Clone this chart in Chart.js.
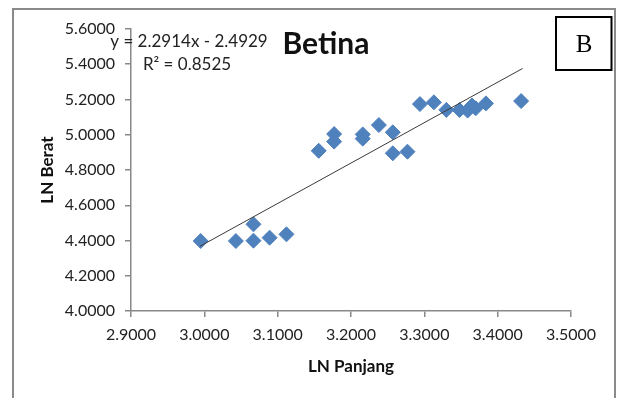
<!DOCTYPE html>
<html>
<head>
<meta charset="utf-8">
<script src="https://cdn.jsdelivr.net/npm/chart.js@4"></script>
<style>
  body { margin: 0; background: #fff; }
  #wrap { width: 617px; height: 398px; }
</style>
</head>
<body>
<div id="wrap"><canvas id="betina-chart" width="617" height="398"></canvas></div>
<script>
// LN Panjang / LN Berat
const lnPanjang = [2.995, 3.043, 3.067, 3.067, 3.089, 3.112, 3.156, 3.177, 3.177, 3.216, 3.216, 3.238,
	3.257, 3.257, 3.277, 3.294, 3.313, 3.330, 3.348, 3.359, 3.365, 3.370, 3.384, 3.432];
const lnBerat = [4.397, 4.397, 4.399, 4.492, 4.416, 4.435, 4.909, 5.004, 4.961, 5.002, 4.978, 5.055,
	5.014, 4.895, 4.904, 5.174, 5.184, 5.141, 5.140, 5.137, 5.166, 5.150, 5.178, 5.191];

// trendline ends
const trendX = [2.994, 3.434];
const trendY = [4.367, 5.376];

const xTicks = [2.9, 3.0, 3.1, 3.2, 3.3, 3.4, 3.5];
const yTicks = [4.0, 4.2, 4.4, 4.6, 4.8, 5.0, 5.2, 5.4, 5.6];

const titleText = "Betina";
const eqText = "y = 2.2914x - 2.4929";
const r2Text = "R\u00B2 = 0.8525";
const boxText = "B";

Chart.defaults.font.family = "Lato";
Chart.defaults.color = "#222";

let points = lnPanjang.map((x, i) => ({x: x, y: lnBerat[i]}));
let trend = trendX.map((x, i) => ({x: x, y: trendY[i]}));

// frame, title, equation and the "B" box
const extras = {
	id: "extras",
	afterDraw(chart) {
		const ctx = chart.ctx;
		ctx.save();
		ctx.strokeStyle = "#8a8a8a";
		ctx.lineWidth = 2;
		ctx.strokeRect(13, 9, 602, 420);

		ctx.strokeStyle = "#000";
		ctx.lineWidth = 2;
		ctx.strokeRect(556, 17, 55.5, 53);
		ctx.fillStyle = "#000";
		ctx.textAlign = "center";
		ctx.textBaseline = "middle";
		ctx.font = "25px 'Liberation Serif'";
		ctx.fillText(boxText, 584, 45);

		ctx.fillStyle = "#111";
		ctx.font = "bold 30px Lato";
		ctx.fillText(titleText, 326, 44);

		ctx.fillStyle = "#222";
		ctx.font = "17px Lato";
		ctx.fillText(eqText, 189, 42);
		ctx.fillText(r2Text, 187, 65);
		ctx.restore();
	}
};

new Chart(document.getElementById("betina-chart").getContext("2d"), {
	type: "scatter",
	data: {
		datasets: [{
			data: trend,
			showLine: true,
			pointRadius: 0,
			borderColor: "#3a3a3a",
			borderWidth: 1,
			order: 0
		},{
			data: points,
			pointStyle: "rectRot",
			pointRadius: 7.5,
			backgroundColor: "#4f81bd",
			borderColor: "#4f81bd",
			borderWidth: 1,
			order: 1
		}]
	},
	options: {
		responsive: false,
		animation: false,
		layout: { padding: { left: 0, right: 46, top: 29, bottom: 0 } },
		plugins: { legend: { display: false }, tooltip: { enabled: false } },
		scales: {
			x: {
				type: "linear",
				min: 2.9,
				max: 3.5,
				afterBuildTicks: s => { s.ticks = xTicks.map(v => ({value: v})); },
				afterFit: s => { s.height = 87; },
				grid: { drawOnChartArea: false, tickLength: 6, color: "#888", lineWidth: 1.5 },
				border: { color: "#888", width: 1.5 },
				ticks: { padding: 8, font: { size: 16 }, color: "#222", callback: v => v.toFixed(4) },
				title: { display: true, text: "LN Panjang", font: { size: 17, weight: "bold" }, color: "#111", padding: { top: 0, bottom: 21 } }
			},
			y: {
				type: "linear",
				min: 4.0,
				max: 5.6,
				afterBuildTicks: s => { s.ticks = yTicks.map(v => ({value: v})); },
				afterFit: s => { s.width = 131; },
				grid: { drawOnChartArea: false, tickLength: 6, color: "#888", lineWidth: 1.5 },
				border: { color: "#888", width: 1.5 },
				ticks: { padding: 10, font: { size: 16 }, color: "#222", callback: v => v.toFixed(4) },
				title: { display: true, text: "LN Berat", font: { size: 17, weight: "bold" }, color: "#111", padding: { top: 37, bottom: 0 } }
			}
		}
	},
	plugins: [extras]
});
</script>
</body>
</html>
